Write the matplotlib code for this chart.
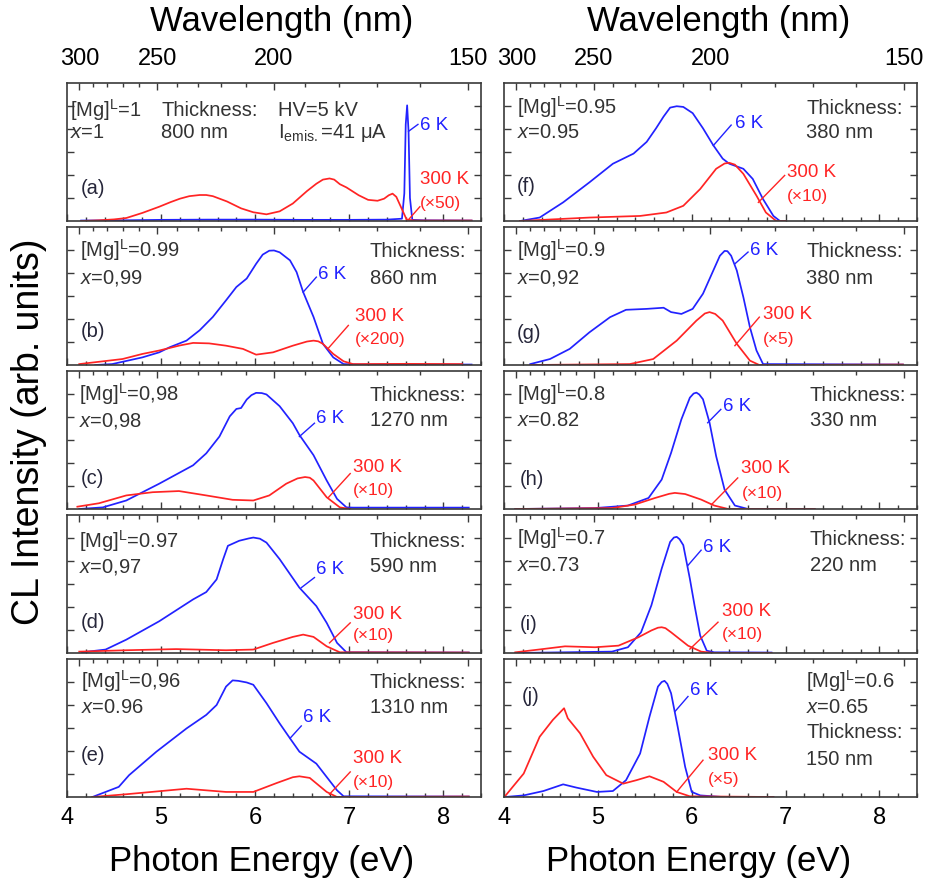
import matplotlib
matplotlib.use('Agg')
from matplotlib import pyplot as plt
from matplotlib.ticker import MultipleLocator, FixedLocator, NullFormatter

plt.rcParams['font.family'] = ['Liberation Sans', 'DejaVu Sans']
plt.rcParams['mathtext.fontset'] = 'custom'
plt.rcParams['mathtext.rm'] = 'Liberation Sans'
plt.rcParams['mathtext.it'] = 'Liberation Sans:italic'
plt.rcParams['mathtext.default'] = 'regular'

HC = 1239.84  # eV nm

# ---- spectra (photon energy in eV, intensity in arb. units) ----
a_e6 = [4.15, 4.6, 5.0, 5.5, 6.0, 6.5, 7.0, 7.4, 7.56, 7.585, 7.60, 7.615, 7.63, 7.645, 7.67, 7.8, 8.3]
a_i6 = [0.02, 0.03, 0.05, 0.06, 0.06, 0.05, 0.05, 0.06, 0.1, 1.2, 4.2, 5.03, 3.9, 1.0, 0.05, 0.03, 0.02]
a_e300 = [4.15, 4.34, 4.5, 4.63, 4.8, 4.98, 5.1, 5.2, 5.3, 5.41, 5.48, 5.55, 5.7, 5.85, 5.98, 6.12, 6.26,
          6.4, 6.55, 6.65, 6.72, 6.79, 6.84, 6.9, 6.97, 7.1, 7.2, 7.3, 7.37, 7.42, 7.46, 7.5, 7.55, 7.61, 7.7, 8.3]
a_i300 = [0.0, 0.03, 0.07, 0.13, 0.35, 0.62, 0.82, 0.97, 1.08, 1.13, 1.13, 1.08, 0.85, 0.55, 0.38, 0.29, 0.42,
          0.76, 1.3, 1.62, 1.8, 1.85, 1.8, 1.6, 1.46, 1.12, 0.92, 0.88, 0.97, 1.12, 1.19, 1.05, 0.6, 0.06, 0.02, 0.02]

b_e6 = [4.3, 4.48, 4.8, 4.98, 5.09, 5.27, 5.41, 5.55, 5.69, 5.80, 5.91, 6.01, 6.08, 6.15, 6.20, 6.26, 6.37,
        6.44, 6.51, 6.62, 6.72, 6.83, 6.94, 7.1, 8.3]
b_i6 = [0.0, 0.04, 0.33, 0.55, 0.77, 1.06, 1.51, 2.09, 2.81, 3.39, 3.76, 4.40, 4.80, 4.97, 4.98, 4.90, 4.55,
        4.04, 3.17, 2.09, 0.92, 0.33, 0.04, 0.02, 0.02]
b_e300 = [4.13, 4.59, 4.80, 4.98, 5.2, 5.34, 5.51, 5.69, 5.87, 6.01, 6.19, 6.40, 6.55, 6.62, 6.67, 6.72, 6.83,
          6.94, 7.04, 7.6, 8.2]
b_i300 = [0.04, 0.26, 0.48, 0.63, 0.85, 0.96, 0.94, 0.84, 0.70, 0.45, 0.55, 0.84, 1.02, 1.06, 1.03, 0.92, 0.48,
          0.16, 0.04, 0.05, 0.04]

c_e6 = [4.13, 4.38, 4.63, 4.98, 5.34, 5.48, 5.62, 5.73, 5.80, 5.85, 5.91, 5.96, 6.01, 6.07, 6.12, 6.26, 6.40,
        6.47, 6.62, 6.76, 6.87, 6.97, 7.04, 8.27]
c_i6 = [0.0, 0.07, 0.37, 1.10, 1.90, 2.42, 3.15, 4.03, 4.35, 4.39, 4.76, 4.95, 5.05, 5.04, 4.98, 4.47, 3.73,
        3.22, 2.34, 1.24, 0.44, 0.07, 0.06, 0.06]
c_e300 = [4.11, 4.34, 4.63, 4.91, 5.19, 5.48, 5.76, 5.98, 6.15, 6.33, 6.45, 6.53, 6.58, 6.62, 6.76, 6.90, 7.01]
c_i300 = [0.10, 0.25, 0.59, 0.73, 0.78, 0.59, 0.40, 0.37, 0.59, 1.10, 1.33, 1.39, 1.36, 1.24, 0.51, 0.07, 0.0]

d_e6 = [4.16, 4.41, 4.63, 4.98, 5.34, 5.48, 5.59, 5.66, 5.71, 5.83, 5.93, 5.98, 6.05, 6.12, 6.26, 6.47, 6.65,
        6.76, 6.87, 6.97, 8.27]
d_i6 = [0.03, 0.15, 0.58, 1.38, 2.33, 2.65, 3.20, 4.08, 4.66, 4.88, 4.98, 5.02, 4.97, 4.80, 4.08, 2.84, 2.04,
        1.31, 0.44, 0.03, 0.02]
d_e300 = [4.13, 4.63, 5.16, 5.69, 5.98, 6.19, 6.40, 6.51, 6.62, 6.76, 6.90, 8.27]
d_i300 = [0.06, 0.12, 0.17, 0.12, 0.15, 0.44, 0.70, 0.80, 0.70, 0.29, 0.03, 0.02]

e_e6 = [4.27, 4.55, 4.66, 4.95, 5.27, 5.48, 5.59, 5.69, 5.76, 5.82, 5.91, 5.98, 6.12, 6.26, 6.37, 6.47, 6.65,
        6.76, 6.87, 6.94, 8.27]
e_i6 = [0.0, 0.44, 0.95, 1.97, 2.98, 3.57, 4.00, 4.80, 5.07, 5.05, 4.98, 4.88, 4.08, 3.20, 2.55, 1.97, 1.45,
        0.87, 0.29, 0.03, 0.02]
e_e300 = [4.27, 4.63, 5.27, 5.69, 5.98, 6.23, 6.40, 6.47, 6.58, 6.76, 6.87, 8.27]
e_i300 = [0.0, 0.12, 0.36, 0.22, 0.22, 0.61, 0.86, 0.90, 0.83, 0.22, 0.0, 0.02]

f_e6 = [4.17, 4.38, 4.63, 4.91, 5.16, 5.38, 5.52, 5.62, 5.70, 5.77, 5.84, 5.91, 6.01, 6.12, 6.23, 6.33, 6.40,
        6.55, 6.65, 6.76, 6.87, 6.94, 7.0]
f_i6 = [0.0, 0.15, 0.81, 1.68, 2.49, 2.93, 3.44, 4.03, 4.54, 4.93, 4.99, 4.96, 4.69, 4.03, 3.29, 2.71, 2.49,
        2.27, 1.83, 0.95, 0.22, 0.0, 0.0]
f_e300 = [4.17, 4.91, 5.45, 5.73, 5.91, 6.09, 6.26, 6.35, 6.40, 6.46, 6.55, 6.69, 6.79, 6.90, 7.0]
f_i300 = [0.0, 0.15, 0.22, 0.37, 0.66, 1.39, 2.27, 2.50, 2.53, 2.45, 2.05, 1.10, 0.37, 0.0, 0.0]

g_e6 = [4.28, 4.49, 4.70, 4.91, 5.13, 5.30, 5.52, 5.70, 5.78, 5.89, 6.01, 6.12, 6.23, 6.30, 6.35, 6.38,
        6.42, 6.48, 6.55, 6.62, 6.69, 6.76, 8.25]
g_i6 = [0.04, 0.26, 0.70, 1.42, 2.08, 2.40, 2.44, 2.49, 2.30, 2.22, 2.44, 3.10, 4.11, 4.75, 4.96, 4.95,
        4.75, 4.11, 2.95, 1.64, 0.63, 0.04, 0.02]
g_e300 = [4.28, 5.34, 5.59, 5.84, 6.05, 6.14, 6.19, 6.25, 6.33, 6.48, 6.62, 6.72, 8.25]
g_i300 = [0.0, 0.04, 0.26, 1.06, 1.93, 2.24, 2.30, 2.22, 1.93, 0.92, 0.19, 0.0, 0.02]

h_e6 = [4.12, 4.97, 5.32, 5.54, 5.68, 5.78, 5.89, 5.98, 6.02, 6.05, 6.08, 6.12, 6.19, 6.26, 6.35, 6.46,
        6.60, 7.31]
h_i6 = [0.0, 0.04, 0.15, 0.48, 1.28, 2.44, 3.90, 4.84, 5.02, 5.06, 4.98, 4.77, 3.75, 2.30, 0.84, 0.15,
        0.0, 0.0]
h_e300 = [4.12, 5.15, 5.39, 5.61, 5.76, 5.82, 5.93, 6.10, 6.24, 6.39, 7.31]
h_i300 = [0.0, 0.04, 0.19, 0.48, 0.66, 0.70, 0.65, 0.41, 0.15, 0.0, 0.0]

i_e6 = [4.12, 5.15, 5.32, 5.46, 5.57, 5.68, 5.77, 5.81, 5.84, 5.87, 5.91, 5.98, 6.03, 6.09, 6.16, 6.24, 6.85]
i_i6 = [0.0, 0.06, 0.25, 0.90, 2.07, 3.67, 4.83, 5.02, 5.05, 4.95, 4.69, 3.23, 2.07, 0.76, 0.10, 0.03, 0.02]
i_e300 = [4.12, 4.37, 4.65, 4.97, 5.22, 5.43, 5.57, 5.64, 5.68, 5.72, 5.78, 5.96, 6.10, 6.24, 6.85]
i_i300 = [0.03, 0.15, 0.29, 0.25, 0.32, 0.68, 0.98, 1.10, 1.12, 1.08, 0.90, 0.32, 0.06, 0.0, 0.0]

j_e6 = [4.01, 4.21, 4.42, 4.63, 4.77, 4.99, 5.16, 5.30, 5.45, 5.55, 5.64, 5.68, 5.71, 5.74, 5.78, 5.85,
        5.93, 6.00, 6.09, 6.33, 6.87]
j_i6 = [0.0, 0.07, 0.26, 0.55, 0.41, 0.22, 0.26, 0.73, 1.89, 3.49, 4.80, 5.0, 5.05, 4.92, 4.51, 3.06,
        1.31, 0.22, 0.07, 0.0, 0.0]
j_e300 = [4.01, 4.21, 4.38, 4.52, 4.64, 4.68, 4.81, 4.95, 5.09, 5.27, 5.41, 5.55, 5.70, 5.84, 5.98, 6.87]
j_i300 = [0.03, 1.02, 2.62, 3.35, 3.86, 3.42, 2.77, 1.75, 0.95, 0.58, 0.73, 0.90, 0.66, 0.22, 0.03, 0.0]

# ---- labels ----
panel_ids = ['a', 'b', 'c', 'd', 'e', 'f', 'g', 'h', 'i', 'j']
mg_vals = ['1', '0.99', '0,98', '0.97', '0,96', '0.95', '0.9', '0.8', '0.7', '0.6']
x_vals = ['1', '0,99', '0,98', '0,97', '0.96', '0.95', '0,92', '0.82', '0.73', '0.65']
thickness = ['800 nm', '860 nm', '1270 nm', '590 nm', '1310 nm', '380 nm', '380 nm', '330 nm', '220 nm', '150 nm']
factors = ['50', '200', '10', '10', '10', '10', '5', '10', '10', '5']
wl_major = [300, 250, 200, 150]
wl_minor = [290, 280, 270, 260, 240, 230, 220, 210, 190, 180, 170, 160]

e6_all = [a_e6, b_e6, c_e6, d_e6, e_e6, f_e6, g_e6, h_e6, i_e6, j_e6]
i6_all = [a_i6, b_i6, c_i6, d_i6, e_i6, f_i6, g_i6, h_i6, i_i6, j_i6]
e300_all = [a_e300, b_e300, c_e300, d_e300, e_e300, f_e300, g_e300, h_e300, i_e300, j_e300]
i300_all = [a_i300, b_i300, c_i300, d_i300, e_i300, f_i300, g_i300, h_i300, i_i300, j_i300]

# ---- annotation layout (data coords, text centres) ----
mg_pos = [(4.03, 4.84, 3.88), (4.135, 4.99, 3.82), (4.13, 4.98, 3.88), (4.13, 4.88, 3.81), (4.15, 5.02, 3.93),
          (4.135, 4.93, 3.88), (4.135, 4.99, 3.82), (4.135, 4.99, 3.90), (4.135, 4.98, 3.84), (7.22, 5.02, 3.93)]
thick_pos = [(5.0, 4.84, 3.88), (7.22, 4.99, 3.82), (7.22, 4.98, 3.88), (7.22, 4.88, 3.81), (7.22, 5.02, 3.93),
             (7.22, 4.93, 3.88), (7.22, 4.99, 3.82), (7.26, 4.99, 3.90), (7.26, 4.98, 3.84), (7.22, 2.84, 1.67)]
letter_pos = [(4.15, 1.46), (4.15, 1.5), (4.15, 1.39), (4.15, 1.38), (4.15, 1.86),
              (4.135, 1.54), (4.135, 1.42), (4.17, 1.35), (4.17, 1.27), (4.19, 4.44)]
k6_pos = [(7.75, 4.25), (6.67, 4.04), (6.65, 4.03), (6.65, 3.71), (6.51, 3.57),
          (6.46, 4.32), (6.62, 5.06), (6.33, 4.55), (6.12, 4.69), (5.98, 4.73)]
k6_lead = [(7.63, 3.9, 7.73, 4.2), (6.51, 3.17, 6.65, 3.82), (6.47, 3.15, 6.63, 3.73), (6.49, 2.84, 6.63, 3.28),
           (6.37, 2.55, 6.49, 3.09), (6.23, 3.28, 6.42, 4.17), (6.46, 4.4, 6.6, 4.91), (6.17, 3.75, 6.31, 4.33),
           (5.96, 3.81, 6.1, 4.47), (5.82, 3.71, 5.96, 4.37)]
k300_pos = [(7.75, 1.9, 0.87), (7.06, 2.22, 1.2), (7.04, 1.9, 0.88), (7.04, 1.75, 0.87), (7.04, 1.75, 0.73),
            (7.01, 2.2, 1.17), (6.76, 2.3, 1.2), (6.53, 1.86, 0.77), (6.32, 1.92, 0.9), (6.17, 1.89, 0.87)]
k300_lead = [(7.63, 0.06, 7.75, 0.62), (6.78, 0.74, 6.99, 1.72), (6.78, 0.51, 7.01, 1.54), (6.79, 0.44, 7.01, 1.31),
             (6.79, 0.12, 7.01, 1.09), (6.71, 0.81, 6.99, 1.98), (6.46, 0.84, 6.72, 2.08), (6.21, 0.19, 6.49, 1.35),
             (5.98, 0.17, 6.28, 1.34), (5.84, 0.22, 6.12, 1.60)]

BLUE = '#2222ff'
RED = '#ff2424'
TXT = '#333333'
EDGE = '#3a3a3a'
HALF = 0.29  # half cap height in data units, centre -> baseline

W, H = 934, 884
fig = plt.figure(figsize=(W / 100, H / 100), dpi=100)

col_left = [67, 504]
col_width = [414, 413]
row_top = 83
row_step = 144
row_h = 138

for n, pid in enumerate(panel_ids):
    col = n // 5
    row = n % 5
    top = row_top + row * row_step
    ax = fig.add_axes([col_left[col] / W, (H - top - row_h) / H, col_width[col] / W, row_h / H])
    ax.set_xlim(4, 8.4)
    ax.set_ylim(0, 6)
    for sp in ax.spines.values():
        sp.set_color(EDGE)
        sp.set_linewidth(1.2)

    ax.plot(e6_all[n], i6_all[n], color=BLUE, lw=1.25, solid_joinstyle='round')
    ax.plot(e300_all[n], i300_all[n], color=RED, lw=1.25, solid_joinstyle='round')

    ax.xaxis.set_major_locator(MultipleLocator(1))
    ax.xaxis.set_minor_locator(MultipleLocator(0.2))
    ax.yaxis.set_major_locator(FixedLocator([1, 2, 3, 4, 5]))
    ax.tick_params(axis='x', which='both', direction='in', top=False, bottom=True,
                   labelsize=17, pad=7, colors=EDGE, labelcolor='black')
    ax.tick_params(axis='y', which='both', direction='in', left=True, right=True,
                   labelleft=False, colors=EDGE)
    ax.tick_params(which='major', length=5, width=1)
    ax.tick_params(which='minor', length=3, width=1)
    if row != 4:
        ax.xaxis.set_major_formatter(NullFormatter())

    # wavelength ticks on top
    tw = ax.twiny()
    tw.set_xlim(4, 8.4)
    tw.set_xticks([HC / w for w in wl_major])
    tw.set_xticks([HC / w for w in wl_minor], minor=True)
    if row == 0:
        tw.set_xticklabels([str(w) for w in wl_major])
    else:
        tw.set_xticklabels([])
    tw.tick_params(which='both', direction='in', colors=EDGE, labelcolor='black', labelsize=17, pad=9)
    tw.tick_params(which='major', length=5, width=1)
    tw.tick_params(which='minor', length=3, width=1)
    for sp in tw.spines.values():
        sp.set_visible(False)

    # sample description
    mx, my, xy = mg_pos[n]
    ax.text(mx, my - HALF, '[Mg]$^{L}$=' + mg_vals[n], fontsize=14.5, color=TXT, va='baseline')
    ax.text(mx, xy - HALF, '$\\mathit{x}$=' + x_vals[n], fontsize=14.5, color=TXT, va='baseline')
    tx, ty1, ty2 = thick_pos[n]
    ax.text(tx, ty1 - HALF, 'Thickness:', fontsize=14.5, color=TXT, va='baseline')
    ax.text(tx, ty2 - HALF, thickness[n], fontsize=14.5, color=TXT, va='baseline')
    if pid == 'a':
        ax.text(6.24, 4.84 - HALF, 'HV=5 kV', fontsize=14.5, color=TXT, va='baseline')
        ax.text(6.24, 3.88 - HALF, 'I$_{emis.}$=41 μA', fontsize=14.5, color=TXT, va='baseline')

    lx, ly = letter_pos[n]
    ax.text(lx, ly - HALF, '(' + pid + ')', fontsize=14.5, color='#26263a', va='baseline')

    # curve labels
    kx, ky = k6_pos[n]
    ax.text(kx, ky - HALF, '6 K', fontsize=13.5, color=BLUE, va='baseline')
    x0, y0, x1, y1 = k6_lead[n]
    ax.plot([x0, x1], [y0, y1], color=BLUE, lw=1.0)

    rx, ry1, ry2 = k300_pos[n]
    ax.text(rx, ry1 - HALF, '300 K', fontsize=13.5, color=RED, va='baseline')
    ax.text(rx, ry2 - HALF, '(×' + factors[n] + ')', fontsize=12.5, color=RED, va='baseline')
    x0, y0, x1, y1 = k300_lead[n]
    ax.plot([x0, x1], [y0, y1], color=RED, lw=1.0)

fig.text(282 / W, 1 - 21 / H, 'Wavelength (nm)', fontsize=25, ha='center', va='center')
fig.text(719 / W, 1 - 21 / H, 'Wavelength (nm)', fontsize=25, ha='center', va='center')
fig.text(262 / W, 1 - 862 / H, 'Photon Energy (eV)', fontsize=25, ha='center', va='center')
fig.text(699 / W, 1 - 862 / H, 'Photon Energy (eV)', fontsize=25, ha='center', va='center')
fig.text(29 / W, 1 - 432 / H, 'CL Intensity (arb. units)', fontsize=27, rotation=90,
         ha='center', va='center')

fig.savefig('out.png', dpi=100)
